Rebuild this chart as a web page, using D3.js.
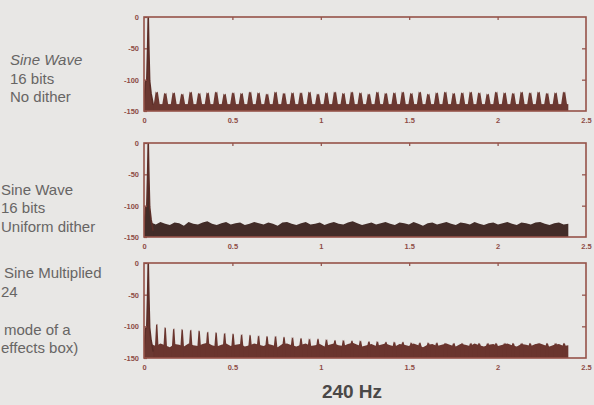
<!DOCTYPE html>
<html>
<head>
<meta charset="utf-8">
<script src="https://cdn.jsdelivr.net/npm/d3@7"></script>
<style>
  html, body { margin: 0; padding: 0; background: #e8e7e5; }
  svg { display: block; }
  .lbl { font-family: "Liberation Sans", Arial, sans-serif; fill: #676564; font-size: 15px; }
  .tick text { font-family: "Liberation Sans", Arial, sans-serif; font-size: 7.5px; font-weight: bold; fill: #8e4c45; }
  .tick line { stroke: #8e4c45; stroke-width: 1.2; }
  .domain { display: none; }
</style>
</head>
<body>
<svg id="chart" width="594" height="405"></svg>
<script>
// Frequency axis in units of 10 kHz, level in dB.
const xTicks = [0, 0.5, 1, 1.5, 2, 2.5];
const yTicks = [0, -50, -100, -150];

// Odd harmonics of the 240 Hz tone.
const harmonicFreqs = [0.072, 0.120, 0.168, 0.216, 0.264, 0.312, 0.360, 0.408, 0.456, 0.504,
  0.552, 0.600, 0.648, 0.696, 0.744, 0.792, 0.840, 0.888, 0.936, 0.984,
  1.032, 1.080, 1.128, 1.176, 1.224, 1.272, 1.320, 1.368, 1.416, 1.464,
  1.512, 1.560, 1.608, 1.656, 1.704, 1.752, 1.800, 1.848, 1.896, 1.944,
  1.992, 2.040, 2.088, 2.136, 2.184, 2.232, 2.280, 2.328, 2.376];

// Fundamental peak and its leakage skirt.
const fundFreqs = [0.000, 0.008, 0.016, 0.021, 0.024, 0.027, 0.032, 0.040, 0.052];
const fundDb    = [-140, -104, -100, -45, 0, -45, -102, -122, -140];

// Panel 1: 16 bit, no dither — distortion harmonics above a low floor.
const noDitherPeaks = [-121, -123, -122, -124, -121, -123, -122, -121, -124, -122,
  -123, -121, -122, -124, -121, -123, -122, -122, -121, -124,
  -122, -121, -123, -121, -122, -124, -121, -123, -122, -121,
  -123, -121, -124, -122, -121, -123, -122, -121, -122, -124,
  -121, -122, -123, -121, -122, -121, -123, -122, -121];
const noDitherFloor = -139;

// Panel 2: 16 bit, uniform dither — noise floor top edge.
const ditherNoiseTop = [-127, -130, -126, -129, -131, -127, -128, -132, -126, -129,
  -130, -127, -125, -129, -131, -128, -126, -130, -128, -127,
  -131, -129, -126, -128, -130, -127, -129, -132, -127, -126,
  -129, -131, -128, -126, -130, -129, -127, -131, -128, -126,
  -129, -130, -127, -125, -128, -131, -129, -127, -130, -128,
  -126, -129, -131, -127, -128, -130, -126, -129, -132, -128,
  -127, -130, -128, -126, -129, -131, -127, -128, -130, -126,
  -129, -131, -128, -127, -130, -128, -126, -129, -131, -127,
  -128, -130, -127, -126, -129, -131, -128, -127, -130, -129];

// Panel 3: ring-modulated sine — harmonics falling into the noise.
const ringPeaks = [-98, -103, -105, -106, -107, -108, -110, -111, -112, -113,
  -114, -115, -116, -117, -117, -118, -119, -120, -121, -121,
  -122, -123, -123, -124, -124, -125, -125, -126, -126, -126,
  -127, -127, -127, -127, -128, -128, -128, -128, -128, -128,
  -128, -128, -128, -128, -128, -128, -128, -128, -128];
const ringNoiseTop = [-128, -131, -127, -130, -133, -128, -129, -132, -127, -130,
  -131, -128, -126, -130, -132, -129, -127, -131, -129, -128,
  -132, -130, -127, -129, -131, -128, -130, -133, -128, -127,
  -130, -132, -129, -127, -131, -130, -128, -132, -129, -127,
  -130, -131, -128, -126, -129, -132, -130, -128, -131, -129,
  -127, -130, -132, -128, -129, -131, -127, -130, -133, -129,
  -128, -131, -129, -127, -130, -132, -128, -129, -131, -127,
  -130, -132, -129, -128, -131, -129, -127, -130, -132, -128,
  -129, -131, -128, -127, -130, -132, -129, -128, -131, -130];

const svg = d3.select("#chart");

const panels = [
  { top: 17, bottom: 111, lines: [
      { t: "Sine Wave", x: 10, y: 65, italic: true },
      { t: "16 bits", x: 10, y: 84 },
      { t: "No dither", x: 10, y: 102 } ] },
  { top: 143, bottom: 237, lines: [
      { t: "Sine Wave", x: 1, y: 195 },
      { t: "16 bits", x: 1, y: 213 },
      { t: "Uniform dither", x: 1, y: 232 } ] },
  { top: 263, bottom: 358, lines: [
      { t: "Sine Multiplied", x: 4, y: 278 },
      { t: "24", x: 1, y: 297 },
      { t: "mode of a", x: 4, y: 335 },
      { t: "effects box)", x: 1, y: 353 } ] }
];

const left = 144, right = 586;
const frameColor = "#955349";

panels.forEach((p, i) => {
  const x = d3.scaleLinear().domain([0, 2.5]).range([left, right]);
  const y = d3.scaleLinear().domain([-150, 0]).range([p.bottom, p.top]);
  const g = svg.append("g");

  // side labels
  p.lines.forEach(l => {
    g.append("text").attr("class", "lbl")
      .attr("x", l.x).attr("y", l.y)
      .style("font-style", l.italic ? "italic" : null)
      .text(l.t);
  });

  const clipId = "clip" + i;
  svg.append("clipPath").attr("id", clipId)
    .append("rect").attr("x", left).attr("y", p.top)
    .attr("width", right - left).attr("height", p.bottom - p.top);
  const plot = g.append("g").attr("clip-path", `url(#${clipId})`);

  const area = d3.area().x(d => x(d[0])).y0(y(-150)).y1(d => y(d[1]));
  const line = d3.line().x(d => x(d[0])).y(d => y(d[1]));

  // a narrow spectral peak drawn as a tapered column
  const spike = (f, db, base, half, color) => {
    plot.append("path")
      .attr("d", area([[f - half, base], [f - half * 0.35, db + 2], [f, db], [f + half * 0.35, db + 2], [f + half, base]]))
      .attr("fill", color);
  };

  if (i === 0) {
    const c = "#6b3831";
    plot.append("rect")
      .attr("x", x(0.05)).attr("width", x(2.40) - x(0.05))
      .attr("y", y(noDitherFloor)).attr("height", y(-150) - y(noDitherFloor))
      .attr("fill", c);
    harmonicFreqs.forEach((f, k) => spike(f, noDitherPeaks[k], noDitherFloor - 1, 0.017, c));
  } else if (i === 1) {
    const c = "#422c28";
    const step = (2.40 - 0.04) / (ditherNoiseTop.length - 1);
    const pts = ditherNoiseTop.map((v, k) => [0.04 + k * step, v]);
    plot.append("path").attr("d", area(pts)).attr("fill", c);
  } else {
    const c = "#6a352e";
    const step = (2.40 - 0.04) / (ringNoiseTop.length - 1);
    const pts = ringNoiseTop.map((v, k) => [0.04 + k * step, v]);
    plot.append("path").attr("d", area(pts)).attr("fill", c);
    harmonicFreqs.forEach((f, k) => spike(f, ringPeaks[k], -132, 0.010, c));
  }

  // fundamental at 240 Hz
  const fund = fundFreqs.map((f, k) => [f, fundDb[k]]);
  plot.append("path").attr("d", area(fund)).attr("fill", i === 1 ? "#422c28" : "#6b3831");
  plot.append("path").attr("d", line(fund)).attr("fill", "none")
    .attr("stroke", "#5a2d27").attr("stroke-width", 1.6);

  // axes
  g.append("g").attr("transform", `translate(${left},0)`)
    .call(d3.axisLeft(y).tickValues(yTicks).tickSize(3).tickPadding(2).tickFormat(d => String(d)))
    .call(s => s.selectAll(".tick line").attr("x2", 3));
  g.append("g").attr("transform", `translate(0,${p.bottom})`)
    .call(d3.axisBottom(x).tickValues(xTicks).tickSize(0).tickPadding(7).tickFormat(d => String(d)));
  g.append("g").attr("transform", `translate(0,${p.top})`)
    .call(d3.axisTop(x).tickValues(xTicks.slice(1, 5)).tickSize(-3).tickFormat(""));
  g.append("g").attr("transform", `translate(${right},0)`)
    .call(d3.axisRight(y).tickValues(yTicks.slice(1, 3)).tickSize(-4).tickFormat(""));

  // frame
  g.append("rect")
    .attr("x", left).attr("y", p.top)
    .attr("width", right - left).attr("height", p.bottom - p.top)
    .attr("fill", "none").attr("stroke", frameColor).attr("stroke-width", 1.6);
});

svg.append("text")
  .attr("x", 352).attr("y", 398)
  .attr("text-anchor", "middle")
  .style("font-family", "'Liberation Sans', Arial, sans-serif")
  .style("font-size", "19px")
  .style("font-weight", "bold")
  .style("fill", "#4a4847")
  .text("240 Hz");
</script>
</body>
</html>
